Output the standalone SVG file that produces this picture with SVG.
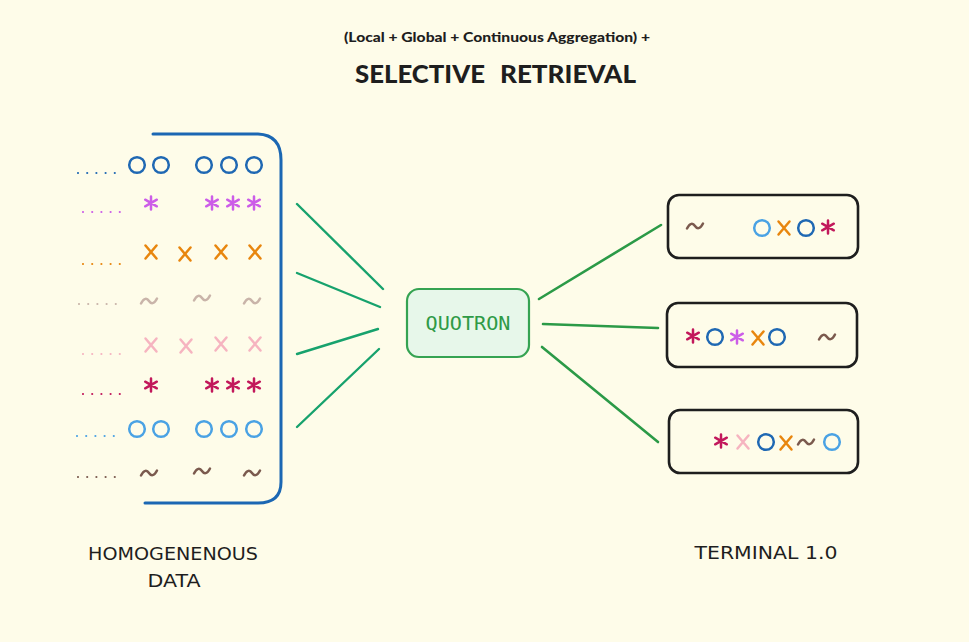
<svg xmlns="http://www.w3.org/2000/svg" width="969" height="642" viewBox="0 0 969 642">
<defs>
<style>
.bg{fill:#fefce9}
.t1{font-family:"Lato","Open Sans",sans-serif;font-weight:900;fill:#1e1e1e}
.hand{font-family:"DejaVu Sans","Liberation Sans",sans-serif;font-weight:normal;fill:#1e1e1e}
.sym{fill:none;stroke-width:2.5;stroke-linecap:round;stroke-linejoin:round}
.dots{fill:none;stroke-width:2.2;stroke-linecap:round;stroke-dasharray:0 9.2}
.db{stroke:#1f68b3}
.vi{stroke:#cc5de8}
.or{stroke:#e8860e}
.lb{stroke:#c9b4a9}
.pk{stroke:#f6b4c0}
.cr{stroke:#c2185b}
.sb{stroke:#4aa2e4}
.br{stroke:#7b5a4e}
.connL{stroke:#17a26d;stroke-width:2.4;stroke-linecap:round;fill:none}
.connR{stroke:#2b9a47;stroke-width:2.6;stroke-linecap:round;fill:none}
.term{fill:none;stroke:#1e1e1e;stroke-width:2.6}
</style>
<symbol id="o" overflow="visible"><circle cx="0" cy="0" r="7.8" fill="none"/></symbol>
<symbol id="a" overflow="visible"><path d="M0,-6.5V6.5M-5.8,-3.3L5.8,3.3M-5.8,3.3L5.8,-3.3" fill="none"/></symbol>
<symbol id="x" overflow="visible"><path d="M-5.5,-6.5L5.5,6.5M5.5,-6.5L-5.5,6.5" fill="none"/></symbol>
<symbol id="w" overflow="visible"><path d="M-8,2.5C-5,-3.5 -2,-3 0,0S5,3.5 8,-2.5" fill="none"/></symbol>
</defs>
<rect class="bg" x="0" y="0" width="969" height="642"/>

<g id="title">
<text class="t1" x="497" y="42" font-size="13.5" text-anchor="middle" textLength="306" lengthAdjust="spacingAndGlyphs">(Local + Global + Continuous Aggregation) +</text>
<text class="t1" x="355" y="83" font-size="25" textLength="130" lengthAdjust="spacingAndGlyphs">SELECTIVE</text>
<text class="t1" x="500" y="83" font-size="25" textLength="136" lengthAdjust="spacingAndGlyphs">RETRIEVAL</text>
</g>

<g id="homogeneous-data">
<path d="M153,134 L258,134 Q281,135 281,160 L281,482 Q281,503 258,503 L145,503" fill="none" stroke="#1b67b3" stroke-width="3" stroke-linecap="round"/>
<path class="dots db" d="M78,173H116"/>
<g class="sym db"><use href="#o" x="137" y="165"/><use href="#o" x="161" y="165"/><use href="#o" x="204" y="165"/><use href="#o" x="229" y="165"/><use href="#o" x="254" y="165"/></g>
<path class="dots vi" d="M83,212H121"/>
<g class="sym vi"><use href="#a" x="151" y="203"/><use href="#a" x="212" y="203"/><use href="#a" x="233" y="203"/><use href="#a" x="254" y="203"/></g>
<path class="dots or" d="M83,264H121"/>
<g class="sym or"><use href="#x" x="151" y="252"/><use href="#x" x="185" y="254"/><use href="#x" x="221" y="252"/><use href="#x" x="255" y="252"/></g>
<path class="dots lb" d="M79,304H117"/>
<g class="sym lb"><use href="#w" x="149" y="301"/><use href="#w" x="202" y="298"/><use href="#w" x="252" y="301"/></g>
<path class="dots pk" d="M83,354H121"/>
<g class="sym pk"><use href="#x" x="151" y="345"/><use href="#x" x="186" y="346"/><use href="#x" x="221" y="344"/><use href="#x" x="255" y="344"/></g>
<path class="dots cr" d="M83,394H121"/>
<g class="sym cr"><use href="#a" x="151" y="385"/><use href="#a" x="212" y="385"/><use href="#a" x="233" y="385"/><use href="#a" x="254" y="385"/></g>
<path class="dots sb" d="M77,436H115"/>
<g class="sym sb"><use href="#o" x="137" y="429"/><use href="#o" x="161" y="429"/><use href="#o" x="204" y="429"/><use href="#o" x="229" y="429"/><use href="#o" x="254" y="429"/></g>
<path class="dots br" d="M78,477H116"/>
<g class="sym br"><use href="#w" x="149" y="473"/><use href="#w" x="202" y="471"/><use href="#w" x="252" y="473"/></g>
</g>

<g id="connectors">
<path class="connL" d="M297,204L383,289"/>
<path class="connL" d="M297,273L380,307"/>
<path class="connL" d="M297,354L378,329" stroke-width="3.4"/>
<path class="connL" d="M297,427L379,349"/>
<path class="connR" d="M539,299L661,225" stroke-width="3"/>
<path class="connR" d="M543,324L658,328" stroke-width="3.4"/>
<path class="connR" d="M542,347L658,442" stroke-width="2.4"/>
</g>

<g id="quotron">
<rect x="407" y="289" width="122" height="68" rx="12" fill="#e7f7ea" stroke="#35a352" stroke-width="2.2"/>
<text x="468" y="330" font-family="DejaVu Sans Mono,Liberation Mono,monospace" font-size="19" fill="#2f9a46" text-anchor="middle" textLength="85" lengthAdjust="spacingAndGlyphs">QUOTRON</text>
</g>

<g id="terminal-1">
<rect class="term" x="668" y="195" width="190" height="63" rx="11"/>
<use class="sym br" href="#w" x="695" y="226"/>
<use class="sym sb" href="#o" x="762" y="228"/>
<use class="sym or" href="#x" x="784" y="228"/>
<use class="sym db" href="#o" x="806" y="228"/>
<use class="sym cr" href="#a" x="828" y="227"/>
</g>

<g id="terminal-2">
<rect class="term" x="667" y="303" width="190" height="64" rx="11"/>
<use class="sym cr" href="#a" x="693" y="336"/>
<use class="sym db" href="#o" x="715" y="337"/>
<use class="sym vi" href="#a" x="737" y="337"/>
<use class="sym or" href="#x" x="758" y="338"/>
<use class="sym db" href="#o" x="777" y="337"/>
<use class="sym br" href="#w" x="827" y="337"/>
</g>

<g id="terminal-3">
<rect class="term" x="669" y="410" width="189" height="63" rx="11"/>
<use class="sym cr" href="#a" x="721" y="441"/>
<use class="sym pk" href="#x" x="743" y="442"/>
<use class="sym db" href="#o" x="766" y="442"/>
<use class="sym or" href="#x" x="786" y="443"/>
<use class="sym br" href="#w" x="806" y="442"/>
<use class="sym sb" href="#o" x="832" y="442"/>
</g>

<g id="labels">
<text class="hand" x="173" y="560" font-size="18" text-anchor="middle" textLength="170" lengthAdjust="spacingAndGlyphs">HOMOGENENOUS</text>
<text class="hand" x="174" y="587" font-size="18" text-anchor="middle" textLength="53" lengthAdjust="spacingAndGlyphs">DATA</text>
<text class="hand" x="766" y="559" font-size="18" text-anchor="middle" textLength="143" lengthAdjust="spacingAndGlyphs">TERMINAL 1.0</text>
</g>
</svg>
